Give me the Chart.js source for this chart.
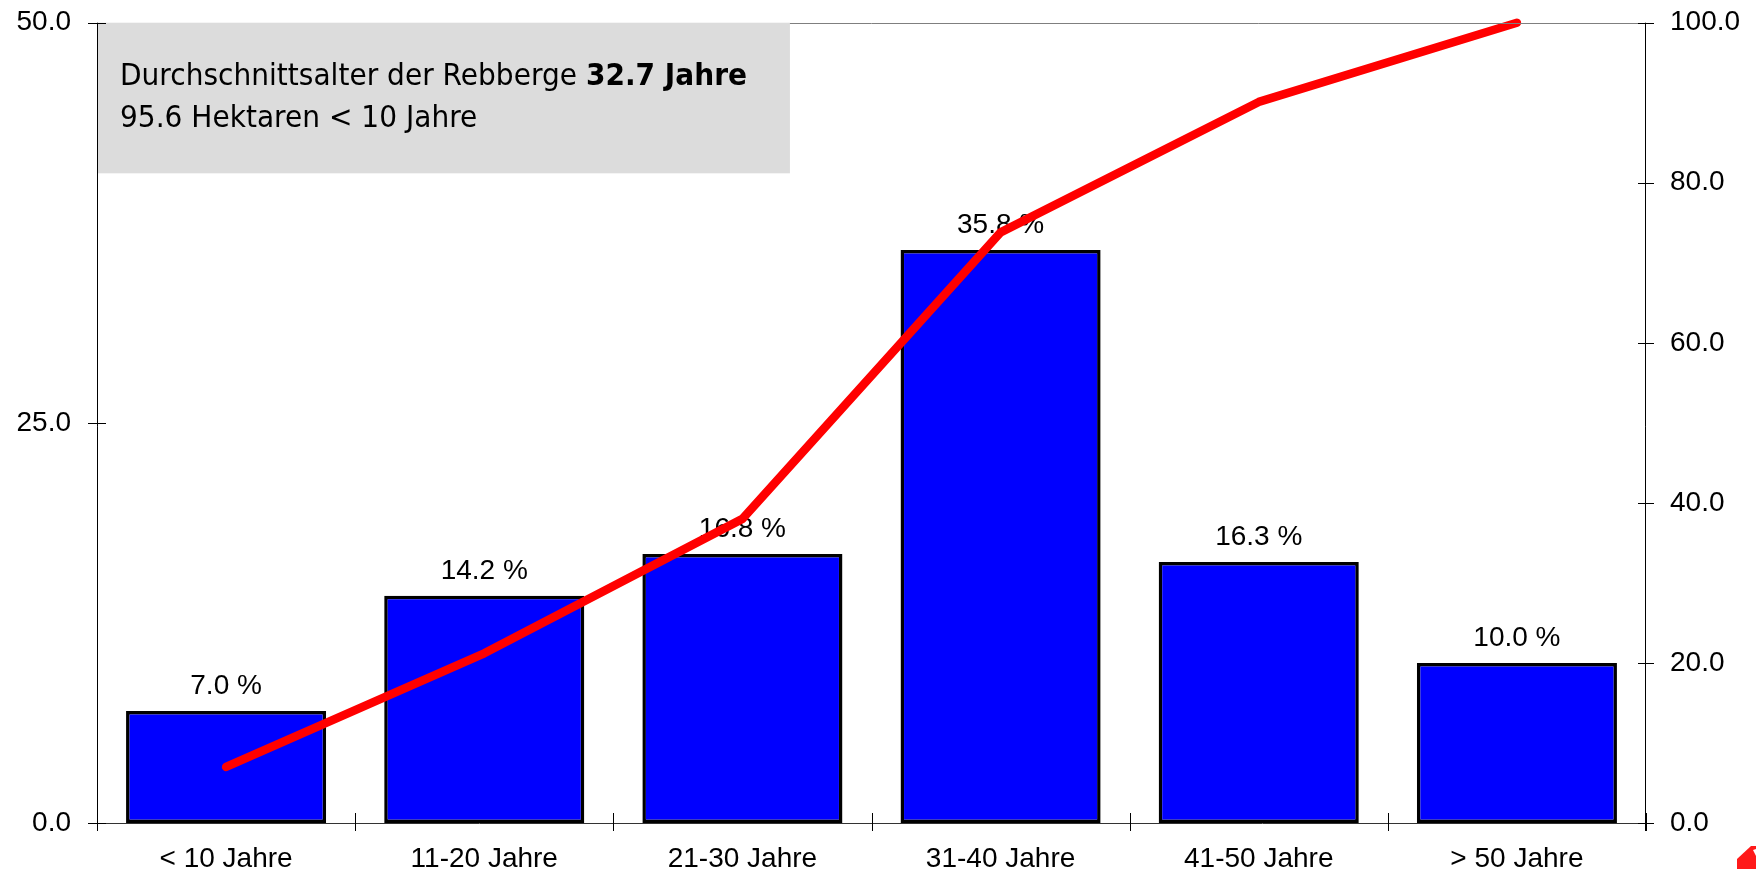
<!DOCTYPE html>
<html>
<head>
<meta charset="utf-8">
<script src="https://cdn.jsdelivr.net/npm/chart.js@4/dist/chart.umd.min.js"></script>
<style>
  html, body { margin: 0; padding: 0; background: #ffffff; }
  #c { display: block; }
</style>
</head>
<body>
<canvas id="c" width="1756" height="869"></canvas>
<script>
// ---- data ----
const categories = ['< 10 Jahre', '11-20 Jahre', '21-30 Jahre', '31-40 Jahre', '41-50 Jahre', '> 50 Jahre'];
const shareValues = [7.0, 14.2, 16.8, 35.8, 16.3, 10.0];          // % per age class (left axis)
const cumulativeValues = [7.0, 21.2, 38.0, 73.8, 90.1, 100.0];    // cumulative % (right axis)
const leftTicks = [0, 25, 50];
const rightTicks = [0, 20, 40, 60, 80, 100];
const infoLine1Regular = 'Durchschnittsalter der Rebberge ';
const infoLine1Bold = '32.7 Jahre';
const infoLine2 = '95.6 Hektaren < 10 Jahre';

const FONT = '"Liberation Sans", Arial, sans-serif';

const decorPlugin = {
  id: 'decor',
  afterDatasetDraw(chart, args) {
    if (args.index !== 0) return;
    const ctx = chart.ctx;
    const meta = chart.getDatasetMeta(0);
    ctx.save();
    ctx.font = '28px ' + FONT;
    ctx.fillStyle = '#000';
    ctx.textAlign = 'center';
    ctx.textBaseline = 'alphabetic';
    meta.data.forEach((bar, i) => {
      ctx.fillText(shareValues[i].toFixed(1) + ' %', bar.x, bar.y - 17);
    });
    ctx.restore();
  },
  afterDraw(chart) {
    const ctx = chart.ctx;
    const a = chart.chartArea;
    const x = chart.scales.x, yl = chart.scales.y, yr = chart.scales.y2;
    ctx.save();
    // top border line
    ctx.strokeStyle = '#7f7f7f';
    ctx.lineWidth = 1;
    ctx.beginPath();
    ctx.moveTo(a.left, Math.round(a.top) + 0.5);
    ctx.lineTo(a.right, Math.round(a.top) + 0.5);
    ctx.stroke();

    // info box
    ctx.fillStyle = '#dcdcdc';
    const boxRight = x.getPixelForValue(2.184);
    const boxBottom = yl.getPixelForValue(40.59);
    ctx.fillRect(a.left + 1, a.top, boxRight - a.left - 1, boxBottom - a.top);

    // info text (Tahoma-like: DejaVu Sans narrowed)
    const tx = a.left + 23;
    ctx.fillStyle = '#000';
    ctx.textBaseline = 'alphabetic';
    ctx.textAlign = 'left';
    const fReg = '29.5px "DejaVu Sans", sans-serif';
    const fBold = 'bold 29.5px "DejaVu Sans", sans-serif';
    ctx.font = fReg;
    const w1 = ctx.measureText(infoLine1Regular).width;
    ctx.font = fBold;
    const w2 = ctx.measureText(infoLine1Bold).width;
    const sx = 627 / (w1 + w2);
    ctx.save();
    ctx.translate(tx, 0);
    ctx.scale(sx, 1);
    ctx.font = fReg;
    ctx.fillText(infoLine1Regular, 0, 85);
    ctx.font = fBold;
    ctx.fillText(infoLine1Bold, w1, 85);
    ctx.font = fReg;
    ctx.fillText(infoLine2, 0, 127);
    ctx.restore();

    // axes
    ctx.strokeStyle = '#000';
    ctx.lineWidth = 1;
    ctx.beginPath();
    ctx.moveTo(a.left + 0.5, a.top);
    ctx.lineTo(a.left + 0.5, a.bottom + 8);
    ctx.moveTo(a.right - 0.5, a.top);
    ctx.lineTo(a.right - 0.5, a.bottom + 8);
    ctx.stroke();
    ctx.strokeStyle = '#333';
    ctx.beginPath();
    ctx.moveTo(a.left - 9, Math.round(a.bottom) + 0.5);
    ctx.lineTo(a.right + 8, Math.round(a.bottom) + 0.5);
    ctx.stroke();

    // tick crosses
    ctx.strokeStyle = '#000';
    ctx.beginPath();
    leftTicks.forEach(v => {
      const py = Math.round(yl.getPixelForValue(v)) + 0.5;
      ctx.moveTo(a.left - 9, py); ctx.lineTo(a.left + 9, py);
    });
    rightTicks.forEach(v => {
      const py = Math.round(yr.getPixelForValue(v)) + 0.5;
      ctx.moveTo(a.right - 8, py); ctx.lineTo(a.right + 8, py);
    });
    for (let i = 0; i <= categories.length; i++) {
      const px = Math.round(x.getPixelForValue(i - 0.5)) + 0.5;
      ctx.moveTo(px, a.bottom - 10); ctx.lineTo(px, a.bottom + 8);
    }
    ctx.stroke();

    // logo fragment bottom-right
    ctx.fillStyle = '#ff1a1a';
    ctx.beginPath();
    ctx.moveTo(1737, 869);
    ctx.lineTo(1737, 859);
    ctx.lineTo(1751, 846);
    ctx.lineTo(1756, 846);
    ctx.lineTo(1756, 869);
    ctx.closePath();
    ctx.fill();
    ctx.fillStyle = '#ffffff';
    ctx.beginPath();
    ctx.moveTo(1753, 850); ctx.lineTo(1756, 849); ctx.lineTo(1756, 856); ctx.closePath();
    ctx.fill();
    ctx.restore();
  }
};

new Chart(document.getElementById('c'), {
  data: {
    labels: categories,
    datasets: [
      {
        type: 'bar',
        data: shareValues,
        yAxisID: 'y',
        backgroundColor: '#0000ff',
        borderColor: '#000000',
        borderWidth: 3.5,
        borderSkipped: false,
        barPercentage: 0.775,
        categoryPercentage: 1.0,
        order: 1
      },
      {
        type: 'line',
        data: cumulativeValues,
        yAxisID: 'y2',
        borderColor: '#ff0000',
        borderWidth: 8.5,
        borderCapStyle: 'round',
        borderJoinStyle: 'round',
        pointRadius: 0,
        tension: 0,
        fill: false,
        clip: false,
        order: 0
      }
    ]
  },
  options: {
    responsive: false,
    devicePixelRatio: 1,
    animation: false,
    layout: { padding: { top: 22.7, left: 0, right: 0, bottom: 0 } },
    plugins: { legend: { display: false }, tooltip: { enabled: false } },
    scales: {
      x: {
        type: 'category',
        offset: true,
        grid: { display: false, drawTicks: false },
        border: { display: false },
        ticks: { color: '#000', font: { family: FONT, size: 28 }, padding: 19, maxRotation: 0, autoSkip: false },
        afterFit(s) { s.height = 46; s.paddingLeft = 0; s.paddingRight = 0; }
      },
      y: {
        position: 'left',
        min: 0, max: 50,
        afterBuildTicks(s) { s.ticks = leftTicks.map(v => ({ value: v })); },
        grid: { display: false, drawTicks: false },
        border: { display: false },
        ticks: { color: '#000', font: { family: FONT, size: 28 }, padding: 26, callback: v => Number(v).toFixed(1) },
        afterFit(s) { s.width = 97; s.paddingTop = 0; s.paddingBottom = 0; }
      },
      y2: {
        position: 'right',
        min: 0, max: 100,
        afterBuildTicks(s) { s.ticks = rightTicks.map(v => ({ value: v })); },
        grid: { display: false, drawTicks: false },
        border: { display: false },
        ticks: { color: '#000', font: { family: FONT, size: 28 }, padding: 24, callback: v => Number(v).toFixed(1) },
        afterFit(s) { s.width = 110; s.paddingTop = 0; s.paddingBottom = 0; }
      }
    }
  },
  plugins: [decorPlugin]
});
</script>
</body>
</html>
